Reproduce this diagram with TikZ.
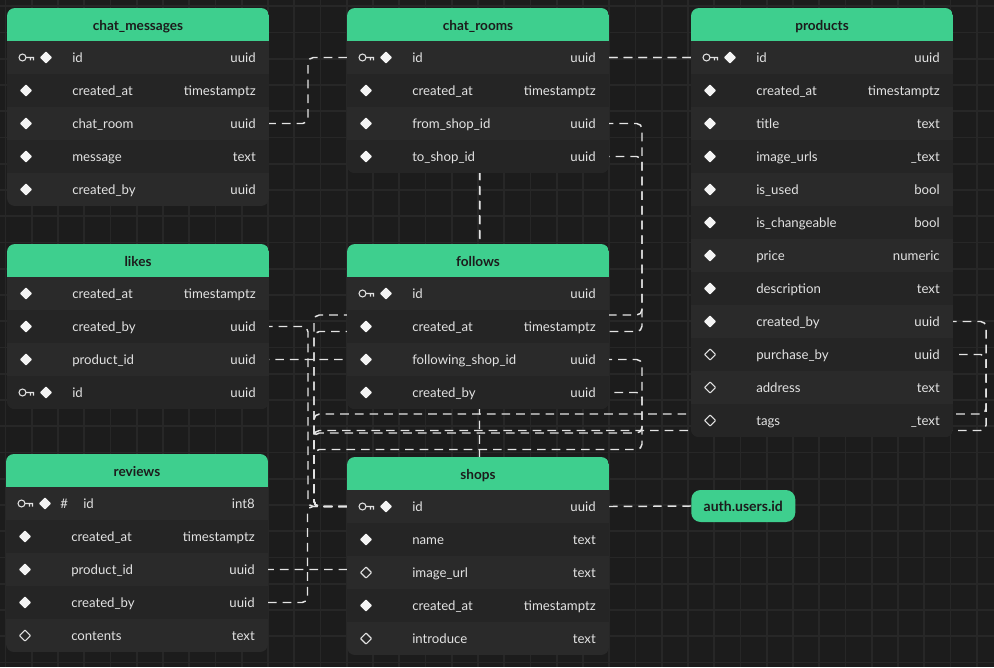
\documentclass[tikz,border=0pt]{standalone}
\usepackage{fontspec}
\setmainfont{Lato}
\usetikzlibrary{calc}
\definecolor{bg}{HTML}{1C1C1C}
\definecolor{gridc}{HTML}{272727}
\definecolor{hdr}{HTML}{3ECF8E}
\definecolor{rowA}{HTML}{2A2A2A}
\definecolor{rowB}{HTML}{252525}
\definecolor{txt}{HTML}{E2E2E2}
\definecolor{hdrtxt}{HTML}{1C1C1C}
\definecolor{edgec}{HTML}{E4E4E4}
\tikzset{
  fk/.style={draw=edgec, line width=1.1pt, dash pattern=on 6.5pt off 4.5pt, rounded corners=4pt},
  colname/.style={anchor=base west, inner sep=0pt, text=txt, font=\fontsize{9.9}{12}\selectfont},
  coltype/.style={anchor=base east, inner sep=0pt, text=txt, font=\fontsize{9.9}{12}\selectfont},
  tabtitle/.style={anchor=base, inner sep=0pt, text=hdrtxt, font=\bfseries\fontsize{10.2}{12}\selectfont},
  keyst/.style={draw=txt, line width=0.8pt},
  authst/.style={fill=hdr, rounded corners=7pt, minimum width=78pt, minimum height=24pt, inner sep=0pt, text=hdrtxt, font=\bfseries\fontsize{10.5}{12}\selectfont},
}
\newcommand\keyicon[2]{\draw[keyst] (#1+3.5,#2) circle (2.6pt) (#1+7,#2) -- (#1+15,#2) (#1+11.5,#2) -- (#1+11.5,#2+3) (#1+14.5,#2) -- (#1+14.5,#2+3);}
\newcommand\dfill[2]{\fill[txt!40!white, rounded corners=0.6pt] (#1,#2-6.2) -- (#1+6.2,#2) -- (#1,#2+6.2) -- (#1-6.2,#2) -- cycle;}
\newcommand\dhollow[2]{\draw[txt, line width=0.8pt, rounded corners=0.5pt] (#1,#2-5.5) -- (#1+5.5,#2) -- (#1,#2+5.5) -- (#1-5.5,#2) -- cycle;}
\newcommand\dbtable[6]{%
 \begin{scope}
  \clip[rounded corners=6pt] (#3,#4) rectangle ++(262,33+33*#5);
  \fill[rowA] (#3,#4) rectangle ++(262,33+33*#5);
  \fill[hdr] (#3,#4) rectangle ++(262,33);
  \node[tabtitle] (#1-title) at (#3+131,#4+22.5) {#2};
  \foreach \ic/\nm/\ty [count=\i] in {#6} {
    \pgfmathsetmacro\yc{#4+33*\i+16.5}
    \ifodd\i\relax\else \fill[rowB] (#3,\yc-16.5) rectangle ++(262,33);\fi
    \def\nx{65}
    \if k\ic \keyicon{#3+12}{\yc}\dfill{#3+39}{\yc}\fi
    \if K\ic \keyicon{#3+12}{\yc}\dfill{#3+39}{\yc}\node[colname] (#1-\i-hash) at (#3+54,\yc+4.8) {\#};\def\nx{77}\fi
    \if f\ic \dfill{#3+19}{\yc}\fi
    \if h\ic \dhollow{#3+19}{\yc}\fi
    \node[colname] (#1-\i-name) at (#3+\nx,\yc+4.8) {\nm};
    \node[coltype] (#1-\i-type) at (#3+249,\yc+4.8) {\ty};
    \coordinate (#1-\i-l) at (#3,\yc);
    \coordinate (#1-\i-r) at (#3+262,\yc);
  }
 \end{scope}
}
% connectors are drawn from the referenced column back to the referencing one,
% so that shared stretches have the same dash phase
\newcommand\fwdedge[2]{\draw[fk] (#2) -| ($(#1)!.5!(#2)$) |- (#1);}
\newcommand\backedge[2]{\draw[fk] (#2) -- ++(-33,0) |- ($(#1)!.5!(#2)$) -| ($(#1)+(33,0)$) -- (#1);}
\begin{document}
\begin{tikzpicture}[x=0.75pt,y=-0.75pt]
\useasboundingbox (0,0) rectangle (994,667);
\fill[bg] (0,0) rectangle (994,667);
\foreach \gx in {0,...,37} \draw[gridc, line width=1.3pt] (5.5+26.25*\gx,0) -- ++(0,667);
\foreach \gy in {0,...,25} \draw[gridc, line width=1.3pt] (0,6.25+26.25*\gy) -- ++(994,0);
% row anchors (set before the tables so connectors run behind them)
\foreach \t/\L/\T/\n in {cm/7/8/5, cr/347/8/4, pr/691/8/12, li/7/244/4, fo/347/244/4, rv/6/454/5, sh/347/457/5} {
  \foreach \i in {1,...,\n} {
    \coordinate (\t-\i-l) at (\L,\T+33*\i+16.5);
    \coordinate (\t-\i-r) at (\L+262,\T+33*\i+16.5);
  }
}
\coordinate (auw) at (691,506);
% connectors
\fwdedge{cm-3-r}{cr-1-l}
\fwdedge{li-2-r}{sh-1-l}
\fwdedge{li-3-r}{pr-1-l}
\fwdedge{rv-3-r}{pr-1-l}
\fwdedge{rv-4-r}{sh-1-l}
\backedge{cr-3-r}{sh-1-l}
\backedge{cr-4-r}{sh-1-l}
\backedge{fo-3-r}{sh-1-l}
\backedge{fo-4-r}{sh-1-l}
\backedge{pr-9-r}{sh-1-l}
\backedge{pr-10-r}{sh-1-l}
\draw[fk] (auw) -- (sh-1-r);
% tables
\dbtable{cm}{chat\_messages}{7}{8}{5}{k/id/uuid, f/created\_at/timestamptz, f/chat\_room/uuid, f/message/text, f/created\_by/uuid}
\dbtable{cr}{chat\_rooms}{347}{8}{4}{k/id/uuid, f/created\_at/timestamptz, f/from\_shop\_id/uuid, f/to\_shop\_id/uuid}
\dbtable{pr}{products}{691}{8}{12}{k/id/uuid, f/created\_at/timestamptz, f/title/text, f/image\_urls/\_text, f/is\_used/bool, f/is\_changeable/bool, f/price/numeric, f/description/text, f/created\_by/uuid, h/purchase\_by/uuid, h/address/text, h/tags/\_text}
\dbtable{li}{likes}{7}{244}{4}{f/created\_at/timestamptz, f/created\_by/uuid, f/product\_id/uuid, k/id/uuid}
\dbtable{fo}{follows}{347}{244}{4}{k/id/uuid, f/created\_at/timestamptz, f/following\_shop\_id/uuid, f/created\_by/uuid}
\dbtable{rv}{reviews}{6}{454}{5}{K/id/int8, f/created\_at/timestamptz, f/product\_id/uuid, f/created\_by/uuid, h/contents/text}
\dbtable{sh}{shops}{347}{457}{5}{k/id/uuid, f/name/text, h/image\_url/text, f/created\_at/timestamptz, h/introduce/text}
\node[authst, anchor=west] (au) at (auw) {auth.users.id};
\end{tikzpicture}
\end{document}
